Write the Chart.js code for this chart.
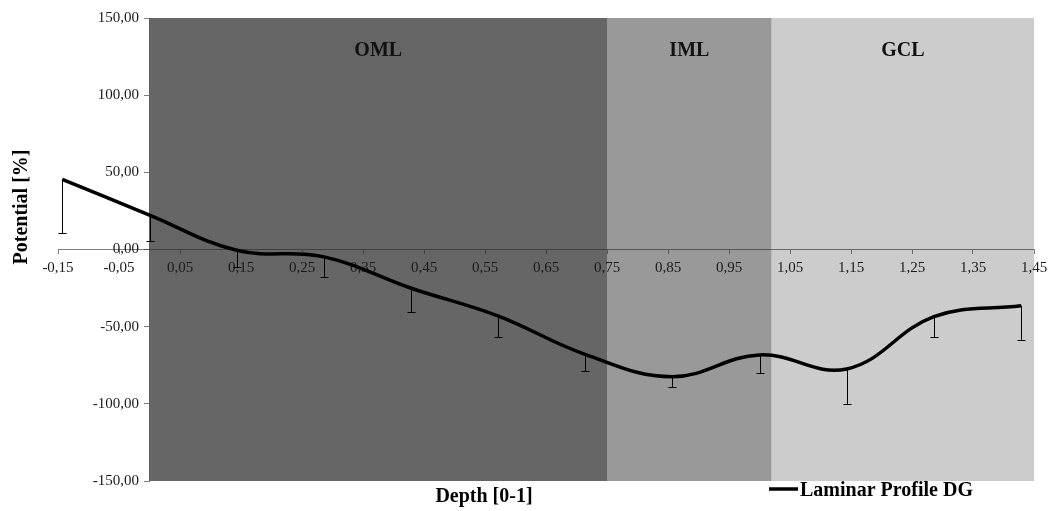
<!DOCTYPE html>
<html>
<head>
<meta charset="utf-8">
<title>Laminar Profile DG</title>
<script src="https://cdn.jsdelivr.net/npm/chart.js@4.4.0/dist/chart.umd.min.js"></script>
<style>
  html, body { margin: 0; padding: 0; background: #fff; }
  #wrap { width: 1050px; height: 511px; position: relative; }
</style>
</head>
<body>
<div id="wrap"><canvas id="profileChart"></canvas></div>
<script>
// depth points and mean potential with the lower error
const depth = [-0.143, 0, 0.143, 0.286, 0.429, 0.571, 0.714, 0.857, 1.0, 1.143, 1.286, 1.429];
const potential = [45.5, 22.3, -0.5, -4.8, -25.1, -43.0, -67.9, -82.4, -68.3, -77.4, -43.5, -36.4];
const errorMinus = [34.6, 16.6, 11.0, 12.8, 15.4, 13.9, 10.8, 6.5, 11.5, 22.7, 13.2, 22.2];

// layer bands along the depth axis
const layerNames = ["OML", "IML", "GCL"];
const layerFrom = [0, 0.75, 1.02];
const layerTo = [0.75, 1.02, 1.45];

// axis ranges
const xRange = [-0.15, 1.45];
const xStep = 0.1;
const yRange = [-150, 150];
const yStep = 50;

const SERIF = '"Liberation Serif", "Times New Roman", serif';
const bandColors = ["#666666", "#999999", "#cccccc"];
const axisColor = "rgba(40,40,40,0.6)";
const comma = (v) => Number(v).toFixed(2).replace(".", ",");

// the axes sit inside the plot, so their label overhang must not shrink it
const noOverhang = (scale) => {
  scale.paddingLeft = 0;
  scale.paddingRight = 0;
  scale.paddingTop = 0;
  scale.paddingBottom = 0;
};

const bandsPlugin = {
  id: "bands",
  beforeDraw(chart) {
    const { ctx, chartArea, scales } = chart;
    ctx.save();
    layerNames.forEach((name, i) => {
      const x1 = scales.x.getPixelForValue(layerFrom[i]);
      const x2 = scales.x.getPixelForValue(layerTo[i]);
      ctx.fillStyle = bandColors[i];
      ctx.fillRect(x1, chartArea.top, x2 - x1, chartArea.bottom - chartArea.top);
      ctx.fillStyle = "#111";
      ctx.font = "bold 20px " + SERIF;
      ctx.textAlign = "center";
      ctx.textBaseline = "middle";
      ctx.fillText(name, (x1 + x2) / 2, chartArea.top + 33);
    });
    ctx.restore();
  },
};

const errorBarsPlugin = {
  id: "errorBars",
  afterDatasetsDraw(chart) {
    const { ctx, scales } = chart;
    ctx.save();
    ctx.strokeStyle = "#000";
    ctx.lineWidth = 1;
    depth.forEach((d, i) => {
      const x = Math.round(scales.x.getPixelForValue(d)) + 0.5;
      const y1 = scales.y.getPixelForValue(potential[i]);
      const y2 = Math.round(scales.y.getPixelForValue(potential[i] - errorMinus[i])) + 0.5;
      ctx.beginPath();
      ctx.moveTo(x, y1);
      ctx.lineTo(x, y2);
      ctx.moveTo(x - 4, y2);
      ctx.lineTo(x + 4, y2);
      ctx.stroke();
    });
    ctx.restore();
  },
};

const labelsPlugin = {
  id: "labels",
  afterDraw(chart) {
    const { ctx } = chart;
    ctx.save();
    ctx.fillStyle = "#000";
    ctx.font = "bold 20px " + SERIF;
    ctx.textBaseline = "middle";

    ctx.textAlign = "center";
    ctx.fillText("Depth [0-1]", 484, 497);

    ctx.save();
    ctx.translate(22, 207);
    ctx.rotate(-Math.PI / 2);
    ctx.fillText("Potential [%]", 0, 0);
    ctx.restore();

    // legend entry
    ctx.strokeStyle = "#000";
    ctx.lineWidth = 3.5;
    ctx.beginPath();
    ctx.moveTo(769, 489);
    ctx.lineTo(798, 489);
    ctx.stroke();
    ctx.textAlign = "left";
    ctx.fillText("Laminar Profile DG", 800, 491);
    ctx.restore();
  },
};

document.addEventListener("DOMContentLoaded", () => {
  const ctx = document.getElementById("profileChart").getContext("2d");
  new Chart(ctx, {
    type: "scatter",
    data: {
      datasets: [
        {
          label: "Laminar Profile DG",
          data: depth.map((d, i) => ({ x: d, y: potential[i] })),
          showLine: true,
          borderColor: "#000",
          borderWidth: 3.5,
          tension: 0.4,
          pointRadius: 0,
          fill: false,
        },
      ],
    },
    options: {
      responsive: true,
      maintainAspectRatio: false,
      animation: false,
      layout: { padding: { left: 58, right: 16, top: 18, bottom: 30 } },
      plugins: {
        legend: { display: false },
        tooltip: { enabled: false },
      },
      scales: {
        x: {
          type: "linear",
          position: { y: 0 },
          min: xRange[0],
          max: xRange[1],
          afterFit: noOverhang,
          grid: { drawOnChartArea: false, drawTicks: true, tickLength: 4, color: axisColor },
          border: { display: true, color: axisColor, width: 1 },
          ticks: {
            stepSize: xStep,
            autoSkip: false,
            maxRotation: 0,
            padding: 6,
            color: "#1a1a1a",
            font: { family: SERIF, size: 15 },
            callback: comma,
          },
        },
        y: {
          type: "linear",
          position: { x: 0 },
          min: yRange[0],
          max: yRange[1],
          afterFit: noOverhang,
          grid: { drawOnChartArea: false, drawTicks: true, tickLength: 5, color: axisColor },
          border: { display: true, color: axisColor, width: 1 },
          ticks: {
            stepSize: yStep,
            color: "#1a1a1a",
            font: { family: SERIF, size: 15 },
            // gap between the label and the axis line
            callback: (v) => comma(v) + "\u2002\u2009",
          },
        },
      },
    },
    plugins: [bandsPlugin, errorBarsPlugin, labelsPlugin],
  });
});
</script>
</body>
</html>
